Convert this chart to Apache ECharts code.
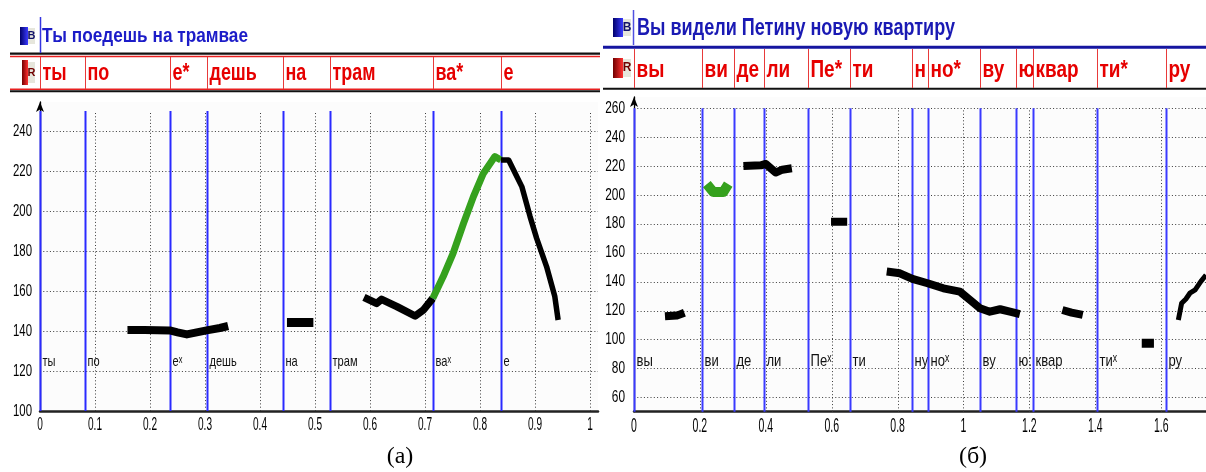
<!DOCTYPE html>
<html><head><meta charset="utf-8">
<script src="https://cdn.jsdelivr.net/npm/echarts@6/dist/echarts.min.js"></script>
<style>html,body{margin:0;padding:0;background:#fff}#c{width:1206px;height:472px}</style>
</head><body><div id="c"></div>
<script>
// ---------------- Panel (a): "Ты поедешь на трамвае" ----------------
const titleA = 'Ты поедешь на трамвае';
const boundsA = [0, 0.081, 0.237, 0.303, 0.441, 0.527, 0.714, 0.838];
const tierA = ['ты', 'по', 'е*', 'дешь', 'на', 'трам', 'ва*', 'е'];
const segLabelsA = ['ты', 'по', 'еˣ', 'дешь', 'на', 'трам', 'ваˣ', 'е'];
const xTicksA = [0, 0.1, 0.2, 0.3, 0.4, 0.5, 0.6, 0.7, 0.8, 0.9, 1];
const xTickLabelsA = ['0', '0.1', '0.2', '0.3', '0.4', '0.5', '0.6', '0.7', '0.8', '0.9', '1'];
const yTicksA = [100, 120, 140, 160, 180, 200, 220, 240];
const yTickLabelsA = ['100', '120', '140', '160', '180', '200', '220', '240'];
const a_seg1 = [[0.159,140.5],[0.19,140.5],[0.236,140.3],[0.25,139.3],[0.267,138.3],[0.285,139.3],[0.303,140.3],[0.327,141.5],[0.342,142.5]];
const a_seg2 = [[0.449,144.3],[0.497,144.3]];
const a_seg3 = [[0.589,156.8],[0.612,153.8],[0.621,155.8],[0.649,152.2],[0.682,147.5],[0.697,150.5],[0.714,156.3]];
const a_rise = [[0.714,156.3],[0.733,167.2],[0.751,178.8],[0.770,193.8],[0.788,207.2],[0.806,218.8],[0.827,227.2],[0.838,225.5]];
const a_fall = [[0.838,225.5],[0.852,225.5],[0.876,212.2],[0.891,197.2],[0.903,186.3],[0.921,172.2],[0.936,157.2],[0.942,145.5]];

// ---------------- Panel (б): "Вы видели Петину новую квартиру" ----------------
const titleB = 'Вы видели Петину новую квартиру';
const boundsB = [0, 0.207, 0.305, 0.395, 0.527, 0.656, 0.845, 0.891, 1.050, 1.158, 1.212, 1.406, 1.614];
const tierB = ['вы', 'ви', 'де', 'ли', 'Пе*', 'ти', 'н', 'но*', 'ву', 'ю', 'квар', 'ти*', 'ру'];
const segLabelsB = ['вы', 'ви', 'де', 'ли', 'Пеˣ', 'ти', 'ну', 'ноˣ', 'ву', 'ю:', 'квар', 'тиˣ', 'ру'];
const xTicksB = [0, 0.2, 0.4, 0.6, 0.8, 1, 1.2, 1.4, 1.6];
const xTickLabelsB = ['0', '0.2', '0.4', '0.6', '0.8', '1', '1.2', '1.4', '1.6'];
const yTicksB = [60, 80, 100, 120, 140, 160, 180, 200, 220, 240, 260];
const yTickLabelsB = ['60', '80', '100', '120', '140', '160', '180', '200', '220', '240', '260'];
const b_vy = [[0.094,116],[0.13,116.5],[0.153,118.5]];
const b_vi = [[0.221,207.5],[0.241,202],[0.271,202],[0.286,207.5]];
const b_deli = [[0.332,220],[0.385,220.5],[0.40,221.5],[0.43,215.5],[0.45,217.5],[0.479,218.5]];
const b_pe = [[0.598,181.4],[0.647,181.4]];
const b_tivu = [[0.767,147],[0.807,145.8],[0.845,141.9],[0.891,138.9],[0.939,135.4],[0.989,133.1],[1.020,127.3],[1.050,121.6],[1.080,119.2],[1.111,120.9],[1.141,119.2],[1.171,117.6]];
const b_kvar = [[1.300,120.4],[1.328,118.6],[1.362,117]];
const b_ti = [[1.541,97.4],[1.578,97.4]];
const b_ru = [[1.652,113.5],[1.662,125],[1.675,128],[1.687,132],[1.703,134.3],[1.72,140],[1.736,144.6]];

// ---------------- layout / helpers ----------------
const XMAX_A = 1.0145, YMIN_A = 100, YTOP_A = 250, YMAX_A = 254.5;
const XMAX_B = 1.736, YMIN_B = 50, YTOP_B = 260, YMAX_B = 267.8;
const SANS = '"Liberation Sans", Arial, sans-serif';
const mctx = document.createElement('canvas').getContext('2d');
function fit(text, weight, size, fam, w) { mctx.font = weight + ' ' + size + 'px ' + fam; return w / mctx.measureText(text).width; }

const tierScaleA = fit('трам', 'bold', 23, SANS, 43);
const tierScaleB = fit('квар', 'bold', 24, SANS, 43);
const lblScaleA = fit('трам', 'normal', 15, SANS, 25);
const lblScaleB = fit('квар', 'normal', 17, SANS, 27);

function gridSeries(xi, pts, isH, from, to) {
  return { type: 'custom', xAxisIndex: xi, yAxisIndex: xi, z: 1, silent: true,
    data: pts.map(v => isH ? [0, v] : [v, from]),
    renderItem: (p, api) => {
      const v = isH ? api.value(1) : api.value(0);
      const a = isH ? api.coord([0, v]) : api.coord([v, from]);
      const b = isH ? api.coord([to, v]) : api.coord([v, to]);
      const x1 = isH ? a[0] : Math.round(a[0]) + 0.5, x2 = isH ? b[0] : Math.round(b[0]) + 0.5;
      const y1 = isH ? Math.round(a[1]) + 0.5 : a[1], y2 = isH ? Math.round(b[1]) + 0.5 : b[1];
      return { type: 'line', shape: { x1, y1, x2, y2 }, style: { stroke: '#3c3c3c', lineWidth: 1, lineDash: [1, 2.3] } };
    } };
}
function tickLabelSeries(xi, ticks, labels, isX, anchor, size, scale, off) {
  return { type: 'custom', xAxisIndex: xi, yAxisIndex: xi, z: 5, silent: true, clip: false,
    data: ticks.map(v => isX ? [v, anchor] : [anchor, v]),
    renderItem: (p, api) => {
      const c = api.coord([api.value(0), api.value(1)]);
      return { type: 'text', x: isX ? c[0] : c[0] - off, y: isX ? c[1] + off : c[1], scaleX: scale,
        style: { text: labels[p.dataIndex], fontSize: size, fontFamily: SANS, fill: '#000', align: isX ? 'center' : 'right', verticalAlign: 'middle' } };
    } };
}
function boundSeries(xi, bounds, ymin, ytop, color, labels, labY, lsize, lscale) {
  return { type: 'custom', xAxisIndex: xi, yAxisIndex: xi, z: 3, silent: true,
    data: bounds.map(b => [b, ymin]),
    renderItem: (p, api) => {
      const a = api.coord([api.value(0), ymin]), b = api.coord([api.value(0), ytop]);
      const x = Math.round(a[0]) + 0.5;
      const ly = api.coord([0, labY])[1];
      return { type: 'group', children: [
        { type: 'line', shape: { x1: x, y1: a[1], x2: x, y2: b[1] }, style: { stroke: color, lineWidth: 2 } },
        { type: 'text', x: x + 2, y: ly, scaleX: lscale, style: { text: labels[p.dataIndex], fontSize: lsize, fontFamily: SANS, fill: '#111', align: 'left', verticalAlign: 'middle' } }
      ] };
    } };
}
function tierSeries(xi, bounds, labels, size, scale, dy) {
  return { type: 'custom', xAxisIndex: xi, yAxisIndex: xi, z: 3, silent: true,
    data: bounds.map(b => [b, 0]),
    renderItem: (p, api) => {
      const a = api.coord([api.value(0), 0]), b = api.coord([api.value(0), 1]);
      const x = Math.round(a[0]) + 0.5;
      return { type: 'group', children: [
        { type: 'line', shape: { x1: x, y1: a[1], x2: x, y2: b[1] }, style: { stroke: '#e83a3a', lineWidth: 1 } },
        { type: 'text', x: x + 2, y: (a[1] + b[1]) / 2 + dy, scaleX: scale, style: { text: labels[p.dataIndex], fontSize: size, fontWeight: 'bold', fontFamily: SANS, fill: '#e60000', align: 'left', verticalAlign: 'middle' } }
      ] };
    } };
}
function contour(xi, data, color, w) {
  return { type: 'line', xAxisIndex: xi, yAxisIndex: xi, data, z: 4, showSymbol: false, symbol: 'none', silent: true,
    lineStyle: { color, width: w, cap: 'butt', join: 'round' } };
}

const option = {
  animation: false,
  backgroundColor: '#ffffff',
  grid: [
    { left: 40, top: 102, width: 558, height: 309, show: true, backgroundColor: '#fcfcfc', borderWidth: 0 },
    { left: 634, top: 97, width: 572, height: 314.7, show: true, backgroundColor: '#fcfcfc', borderWidth: 0 },
    { left: 40, top: 57, width: 558, height: 32, show: false },
    { left: 634, top: 49, width: 572, height: 39, show: false }
  ],
  xAxis: [
    { gridIndex: 0, type: 'value', min: 0, max: XMAX_A, splitLine: { show: false }, axisTick: { show: false },
      axisLine: { lineStyle: { color: '#222', width: 2.5 } }, axisLabel: { show: false } },
    { gridIndex: 1, type: 'value', min: 0, max: XMAX_B, splitLine: { show: false }, axisTick: { show: false },
      axisLine: { lineStyle: { color: '#222', width: 2.5 } }, axisLabel: { show: false } },
    { gridIndex: 2, type: 'value', min: 0, max: XMAX_A, show: false },
    { gridIndex: 3, type: 'value', min: 0, max: XMAX_B, show: false }
  ],
  yAxis: [
    { gridIndex: 0, type: 'value', min: YMIN_A, max: YMAX_A, splitLine: { show: false }, axisTick: { show: false },
      axisLine: { show: true, symbol: ['none', 'arrow'], symbolSize: [6, 10], lineStyle: { color: '#000', width: 1.3 } }, axisLabel: { show: false } },
    { gridIndex: 1, type: 'value', min: YMIN_B, max: YMAX_B, splitLine: { show: false }, axisTick: { show: false },
      axisLine: { show: true, symbol: ['none', 'arrow'], symbolSize: [6, 10], lineStyle: { color: '#000', width: 1.3 } }, axisLabel: { show: false } },
    { gridIndex: 2, type: 'value', min: 0, max: 1, show: false },
    { gridIndex: 3, type: 'value', min: 0, max: 1, show: false }
  ],
  series: [
    gridSeries(0, yTicksA.slice(1), true, 0, XMAX_A),
    gridSeries(0, xTicksA.slice(1), false, YMIN_A, YTOP_A),
    gridSeries(1, yTicksB, true, 0, XMAX_B),
    gridSeries(1, xTicksB.slice(1), false, YMIN_B, YTOP_B),
    tickLabelSeries(0, xTicksA, xTickLabelsA, true, YMIN_A, 18, 0.56, 14),
    tickLabelSeries(0, yTicksA, yTickLabelsA, false, 0, 17, 0.67, 8),
    tickLabelSeries(1, xTicksB, xTickLabelsB, true, YMIN_B, 21, 0.5, 15),
    tickLabelSeries(1, yTicksB, yTickLabelsB, false, 0, 16.5, 0.72, 9),
    boundSeries(0, boundsA, YMIN_A, YTOP_A, '#2a2aff', segLabelsA, 124.5, 15, lblScaleA),
    boundSeries(1, boundsB, YMIN_B, YTOP_B, '#3a3aff', segLabelsB, 85, 17, lblScaleB),
    tierSeries(2, boundsA, tierA, 23, tierScaleA, 1),
    tierSeries(3, boundsB, tierB, 24, tierScaleB, 2),
    contour(0, a_seg1, '#000', 8), contour(0, a_seg2, '#000', 9), contour(0, a_seg3, '#000', 7.5),
    contour(0, a_rise, '#35a11d', 7), contour(0, a_fall, '#000', 5.5),
    contour(1, b_vy, '#000', 8), contour(1, b_vi, '#35a11d', 10), contour(1, b_deli, '#000', 8), contour(1, b_pe, '#000', 8),
    contour(1, b_tivu, '#000', 8), contour(1, b_kvar, '#000', 8), contour(1, b_ti, '#000', 9), contour(1, b_ru, '#000', 5)
  ],
  graphic: [
    { type: 'line', shape: { x1: 10, y1: 53.7, x2: 600, y2: 53.7 }, style: { stroke: '#111', lineWidth: 2.2 } },
    { type: 'line', shape: { x1: 10, y1: 56.5, x2: 600, y2: 56.5 }, style: { stroke: '#e82020', lineWidth: 1.5 } },
    { type: 'line', shape: { x1: 10, y1: 89.2, x2: 600, y2: 89.2 }, style: { stroke: '#e82020', lineWidth: 1.5 } },
    { type: 'line', shape: { x1: 10, y1: 91.3, x2: 600, y2: 91.3 }, style: { stroke: '#111', lineWidth: 2 } },
    { type: 'line', shape: { x1: 40.5, y1: 17, x2: 40.5, y2: 53 }, style: { stroke: '#3535e0', lineWidth: 1.5 } },
    { type: 'line', shape: { x1: 603, y1: 47.3, x2: 1206, y2: 47.3 }, style: { stroke: '#1515a0', lineWidth: 3 } },
    { type: 'line', shape: { x1: 603, y1: 88.8, x2: 1206, y2: 88.8 }, style: { stroke: '#111', lineWidth: 2 } },
    { type: 'line', shape: { x1: 633.5, y1: 10, x2: 633.5, y2: 45 }, style: { stroke: '#5050e0', lineWidth: 1.5 } },
    { type: 'rect', shape: { x: 20, y: 27, width: 8, height: 18 }, style: { fill: new echarts.graphic.LinearGradient(0, 0, 1, 0, [{ offset: 0, color: '#00006a' }, { offset: 1, color: '#3a3aff' }]) } },
    { type: 'rect', shape: { x: 28, y: 28, width: 7, height: 16 }, style: { fill: '#e6e6dc' } },
    { type: 'text', x: 31.5, y: 36, style: { text: 'B', fontSize: 11, fontWeight: 'bold', fontFamily: SANS, fill: '#10106a', align: 'center', verticalAlign: 'middle' } },
    { type: 'rect', shape: { x: 22, y: 60, width: 6, height: 25 }, style: { fill: new echarts.graphic.LinearGradient(0, 0, 1, 0, [{ offset: 0, color: '#700000' }, { offset: 1, color: '#ff3030' }]) } },
    { type: 'rect', shape: { x: 28, y: 62, width: 7, height: 21 }, style: { fill: '#e6e6dc' } },
    { type: 'text', x: 31.5, y: 72.5, style: { text: 'R', fontSize: 11, fontWeight: 'bold', fontFamily: SANS, fill: '#700000', align: 'center', verticalAlign: 'middle' } },
    { type: 'rect', shape: { x: 613, y: 18, width: 10, height: 19 }, style: { fill: new echarts.graphic.LinearGradient(0, 0, 1, 0, [{ offset: 0, color: '#00006a' }, { offset: 1, color: '#3a3aff' }]) } },
    { type: 'rect', shape: { x: 623, y: 19, width: 8, height: 17 }, style: { fill: '#e6e6dc' } },
    { type: 'text', x: 627, y: 27.5, style: { text: 'B', fontSize: 12, fontWeight: 'bold', fontFamily: SANS, fill: '#10106a', align: 'center', verticalAlign: 'middle' } },
    { type: 'rect', shape: { x: 613, y: 58, width: 10, height: 20 }, style: { fill: new echarts.graphic.LinearGradient(0, 0, 1, 0, [{ offset: 0, color: '#700000' }, { offset: 1, color: '#ff3030' }]) } },
    { type: 'rect', shape: { x: 623, y: 59, width: 8, height: 18 }, style: { fill: '#e6e6dc' } },
    { type: 'text', x: 627, y: 68, style: { text: 'R', fontSize: 12, fontWeight: 'bold', fontFamily: SANS, fill: '#700000', align: 'center', verticalAlign: 'middle' } },
    { type: 'text', x: 42, y: 36, scaleX: fit(titleA, 'bold', 20, SANS, 206), style: { text: titleA, fontSize: 20, fontWeight: 'bold', fontFamily: SANS, fill: '#1c1cc8', align: 'left', verticalAlign: 'middle' } },
    { type: 'text', x: 637, y: 28.5, scaleX: fit(titleB, 'bold', 24, SANS, 318), style: { text: titleB, fontSize: 24, fontWeight: 'bold', fontFamily: SANS, fill: '#1a1ab4', align: 'left', verticalAlign: 'middle' } },
    { type: 'text', x: 400, y: 457, style: { text: '(a)', fontSize: 24, fontFamily: '"Liberation Serif", "Times New Roman", serif', fill: '#000', align: 'center', verticalAlign: 'middle' } },
    { type: 'text', x: 973, y: 457, style: { text: '(б)', fontSize: 24, fontFamily: '"Liberation Serif", "Times New Roman", serif', fill: '#000', align: 'center', verticalAlign: 'middle' } }
  ]
};
const chart = echarts.init(document.getElementById('c'), null, { renderer: 'canvas' });
chart.setOption(option);
</script></body></html>
